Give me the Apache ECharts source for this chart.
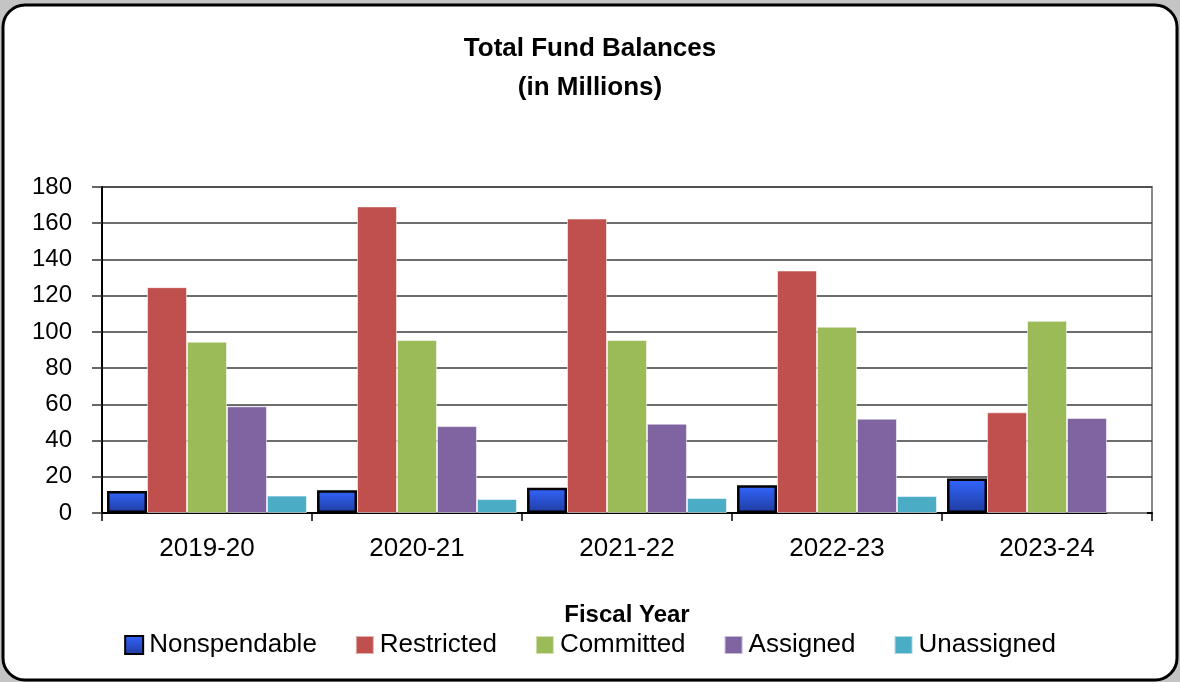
<!DOCTYPE html>
<html>
<head>
<meta charset="utf-8">
<script src="https://cdn.jsdelivr.net/npm/echarts@6/dist/echarts.min.js"></script>
<style>
html,body{margin:0;padding:0;background:#c4c4c4;}
#chart{width:1180px;height:682px;}
</style>
</head>
<body>
<div id="chart"></div>
<script>
const categories = ['2019-20', '2020-21', '2021-22', '2022-23', '2023-24'];
const nonspendable = [12.1, 12.5, 14.0, 15.3, 19.0];
const restricted = [124.7, 169.3, 162.6, 133.9, 55.6];
const committed = [94.6, 95.5, 95.5, 102.9, 106.1];
const assigned = [58.9, 48.0, 49.3, 52.1, 52.5];
const unassigned = [9.6, 7.7, 8.3, 9.4, 0];
const seriesNames = ['Nonspendable', 'Restricted', 'Committed', 'Assigned', 'Unassigned'];

const FONT = '"Liberation Sans", Arial, sans-serif';
const chart = echarts.init(document.getElementById('chart'));

const thinBorder = { borderColor: 'rgba(255,255,255,0.55)', borderWidth: 1 };

chart.setOption({
  backgroundColor: 'transparent',
  animation: false,
  graphic: [{
    type: 'rect', z: -10, silent: true,
    shape: { x: 3, y: 5, width: 1174, height: 675, r: 22 },
    style: { fill: '#ffffff', stroke: '#000000', lineWidth: 3 }
  }],
  title: {
    text: 'Total Fund Balances\n(in Millions)',
    left: 'center', top: 29, padding: 0,
    textStyle: { fontFamily: FONT, fontSize: 26, fontWeight: 'bold', color: '#000', lineHeight: 39 }
  },
  legend: {
    data: seriesNames,
    left: 'center', top: 627,
    icon: 'rect',
    itemGap: 38, itemWidth: 18, itemHeight: 18,
    textStyle: { fontFamily: FONT, fontSize: 26, color: '#000', padding: [0, 0, 0, 1] }
  },
  grid: {
    left: 102, right: 28, top: 187, bottom: 169,
    show: true, borderColor: '#8a8a8a', borderWidth: 2, backgroundColor: 'transparent'
  },
  xAxis: {
    type: 'category', data: categories,
    name: 'Fiscal Year', nameLocation: 'middle', nameGap: 90,
    nameTextStyle: { fontFamily: FONT, fontSize: 24, fontWeight: 'bold', color: '#000' },
    axisLine: { lineStyle: { color: '#000', width: 2 } },
    axisTick: { show: true, length: 8, lineStyle: { color: '#000', width: 1.5 } },
    axisLabel: { fontFamily: FONT, fontSize: 26, color: '#000', margin: 23 }
  },
  yAxis: {
    type: 'value', min: 0, max: 180, interval: 20,
    axisLine: { show: true, lineStyle: { color: '#000', width: 2 } },
    axisTick: { show: true, length: 10, lineStyle: { color: '#333', width: 1.5 } },
    axisLabel: { fontFamily: FONT, fontSize: 24, color: '#000', margin: 30 },
    splitLine: { lineStyle: { color: '#3c3c3c', width: 1.5 } }
  },
  series: [
    {
      name: 'Nonspendable', type: 'bar', data: nonspendable,
      barGap: '0%', barCategoryGap: '4.8%',
      itemStyle: {
        color: new echarts.graphic.LinearGradient(0, 0, 0, 1, [
          { offset: 0, color: '#3366ff' },
          { offset: 1, color: '#1f3b9e' }
        ]),
        borderColor: '#000', borderWidth: 2.5
      }
    },
    { name: 'Restricted', type: 'bar', data: restricted, itemStyle: Object.assign({ color: '#C0504D' }, thinBorder) },
    { name: 'Committed', type: 'bar', data: committed, itemStyle: Object.assign({ color: '#9BBB59' }, thinBorder) },
    { name: 'Assigned', type: 'bar', data: assigned, itemStyle: Object.assign({ color: '#8064A2' }, thinBorder) },
    { name: 'Unassigned', type: 'bar', data: unassigned, itemStyle: Object.assign({ color: '#4BACC6' }, thinBorder) }
  ]
});
</script>
</body>
</html>
